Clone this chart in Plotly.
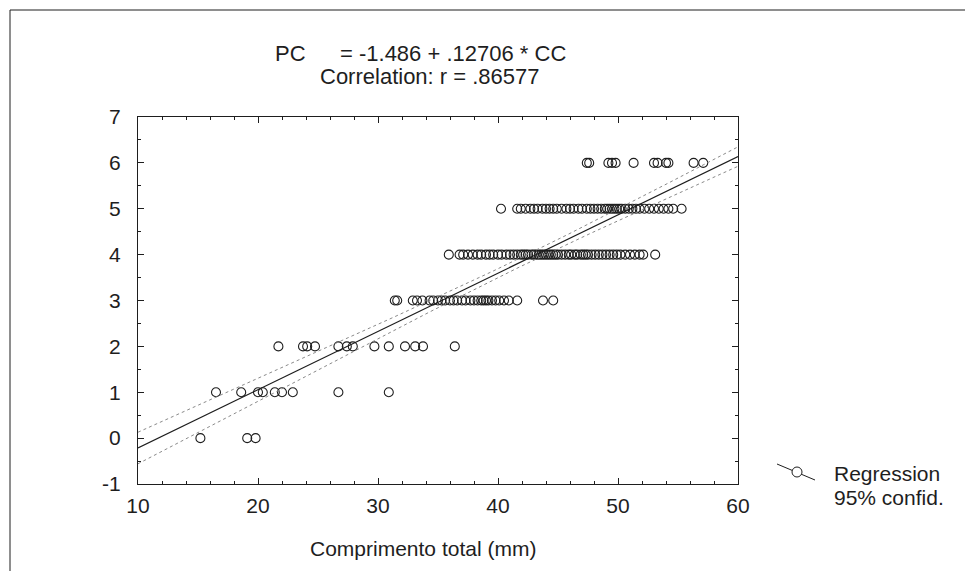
import numpy as np
import plotly.graph_objects as go

# ---- data ----
pc_levels = [0, 1, 2, 3, 4, 5, 6]
cc_pc0 = [15.2, 19.1, 19.8]
cc_pc1 = [16.5, 18.6, 20.0, 20.4, 21.4, 22.0, 22.9, 26.7, 30.9]
cc_pc2 = [21.7, 23.75, 24.1, 24.75, 26.7, 27.4, 27.9, 29.7, 30.9, 32.25, 33.1, 33.75, 36.4]
cc_pc3 = [31.4, 31.6, 32.9, 33.25, 33.7, 34.3, 34.6, 35.0, 35.3, 35.6, 36.0, 36.3,
          36.6, 37.0, 37.3, 37.7, 38.0, 38.3, 38.6, 38.8, 39.0, 39.2, 39.5, 39.8,
          40.1, 40.5, 40.9, 41.6, 43.75, 44.6]
cc_pc4 = [35.9, 36.8, 37.1, 37.5, 37.9, 38.3, 38.6, 39.0, 39.3, 39.6, 40.0, 40.3,
          40.7, 41.0, 41.3, 41.6, 41.9, 42.1, 42.3, 42.5, 42.8, 43.0, 43.2, 43.4,
          43.6, 43.8, 44.0, 44.2, 44.4, 44.6, 44.8, 45.0, 45.3, 45.6, 45.9, 46.1,
          46.4, 46.6, 46.9, 47.1, 47.3, 47.5, 47.8, 48.1, 48.4, 48.7, 49.0, 49.3,
          49.6, 49.9, 50.2, 50.6, 51.0, 51.4, 51.8, 52.1, 53.1]
cc_pc5 = [40.25, 41.6, 41.9, 42.3, 42.7, 43.0, 43.3, 43.7, 44.0, 44.3, 44.6, 44.9,
          45.3, 45.7, 46.0, 46.3, 46.7, 47.0, 47.4, 47.7, 48.0, 48.3, 48.6, 48.9,
          49.1, 49.3, 49.5, 49.7, 49.9, 50.1, 50.3, 50.6, 50.9, 51.2, 51.5, 51.8,
          52.2, 52.6, 53.0, 53.4, 53.8, 54.2, 54.6, 55.3]
cc_pc6 = [47.4, 47.6, 49.2, 49.5, 49.8, 51.3, 53.0, 53.3, 54.0, 54.2, 56.3, 57.1]

intercept = -1.486
slope = 0.12706
x_tick_vals = [10, 20, 30, 40, 50, 60]
x_tick_text = ["10", "20", "30", "40", "50", "60"]
y_tick_vals = [-1, 0, 1, 2, 3, 4, 5, 6, 7]
y_tick_text = ["-1", "0", "1", "2", "3", "4", "5", "6", "7"]

groups = [cc_pc0, cc_pc1, cc_pc2, cc_pc3, cc_pc4, cc_pc5, cc_pc6]
xs = np.concatenate([np.array(g, float) for g in groups])
ys = np.concatenate([np.full(len(g), lv, float) for g, lv in zip(groups, pc_levels)])

# regression line and 95% confidence band
xl = np.linspace(10, 60, 101)
yl = intercept + slope * xl
n = len(xs)
xm = xs.mean()
sxx = ((xs - xm) ** 2).sum()
resid = ys - (intercept + slope * xs)
s = np.sqrt((resid ** 2).sum() / (n - 2))
half = 1.97 * s * np.sqrt(1.0 / n + (xl - xm) ** 2 / sxx)

# ---- layout geometry (screen pixels; page body has an 8px margin) ----
OFF = 8
W, H = 973 - OFF, 571 - OFF
L, R, T, B = 138, 738, 117, 484   # plot box in screen pixels


def px(x):
    return (x - L) / (R - L)


def py(y):
    return (B - y) / (B - T)


INK = "#1e1e1e"
FONT = "Liberation Sans, Arial, sans-serif"

fig = go.Figure()
fig.add_trace(go.Scatter(x=xs, y=ys, mode="markers",
                         marker=dict(symbol="circle-open", size=9,
                                     color=INK, line=dict(width=1.1, color=INK)),
                         showlegend=False, hoverinfo="x+y"))
fig.add_trace(go.Scatter(x=xl, y=yl, mode="lines",
                         line=dict(color=INK, width=1.2), showlegend=False))
fig.add_trace(go.Scatter(x=xl, y=yl + half, mode="lines",
                         line=dict(color="#8a8a8a", width=1, dash="dot"), showlegend=False))
fig.add_trace(go.Scatter(x=xl, y=yl - half, mode="lines",
                         line=dict(color="#8a8a8a", width=1, dash="dot"), showlegend=False))

axis_common = dict(showgrid=False, zeroline=False, showline=True, linecolor=INK,
                   linewidth=1.2, mirror="ticks", ticks="inside", ticklen=6,
                   tickcolor=INK, tickwidth=1, automargin=False,
                   tickfont=dict(family=FONT, size=21, color=INK))

fig.update_xaxes(range=[10, 60], tickvals=x_tick_vals, ticktext=x_tick_text,
                 ticklabelstandoff=3,
                 minor=dict(dtick=2, ticks="inside", ticklen=3, tickcolor=INK),
                 **axis_common)
fig.update_yaxes(range=[-1, 7], tickvals=y_tick_vals, ticktext=y_tick_text,
                 ticklabelstandoff=12,
                 minor=dict(dtick=0.5, ticks="inside", ticklen=3, tickcolor=INK),
                 **axis_common)

ann = []
tf_title = dict(family=FONT, size=22, color=INK)
tf = dict(family=FONT, size=21, color=INK)
ann.append(dict(text="PC", x=px(273), y=py(53), xanchor="left", yanchor="middle", font=tf_title))
ann.append(dict(text="= -1.486 + .12706 * CC", x=px(338), y=py(53),
                xanchor="left", yanchor="middle", font=tf_title))
ann.append(dict(text="Correlation: r = .86577", x=px(318), y=py(77),
                xanchor="left", yanchor="middle", font=tf_title))
ann.append(dict(text="Comprimento total (mm)", x=px(308), y=py(548),
                xanchor="left", yanchor="middle", font=tf))
ann.append(dict(text="Regression", x=px(832), y=py(473), xanchor="left",
                yanchor="middle", font=tf))
ann.append(dict(text="95% confid.", x=px(832), y=py(497), xanchor="left",
                yanchor="middle", font=tf))
for a in ann:
    a.update(xref="paper", yref="paper", showarrow=False)

shapes = [
    # outer frame
    dict(type="rect", xref="paper", yref="paper", x0=px(10), y0=py(600),
         x1=px(1000), y1=py(10), line=dict(color=INK, width=1)),
    # legend symbol
    dict(type="line", xref="paper", yref="paper", x0=px(777), y0=py(464),
         x1=px(815), y1=py(480), line=dict(color=INK, width=1)),
    dict(type="circle", xref="paper", yref="paper", x0=px(792), y0=py(477),
         x1=px(802), y1=py(467), fillcolor="white", line=dict(color=INK, width=1)),
]

fig.update_layout(width=W, height=H,
                  margin=dict(l=L - OFF, r=W - (R - OFF), t=T - OFF, b=H - (B - OFF)),
                  paper_bgcolor="white", plot_bgcolor="white",
                  annotations=ann, shapes=shapes, showlegend=False)

fig.write_html("out.html")
